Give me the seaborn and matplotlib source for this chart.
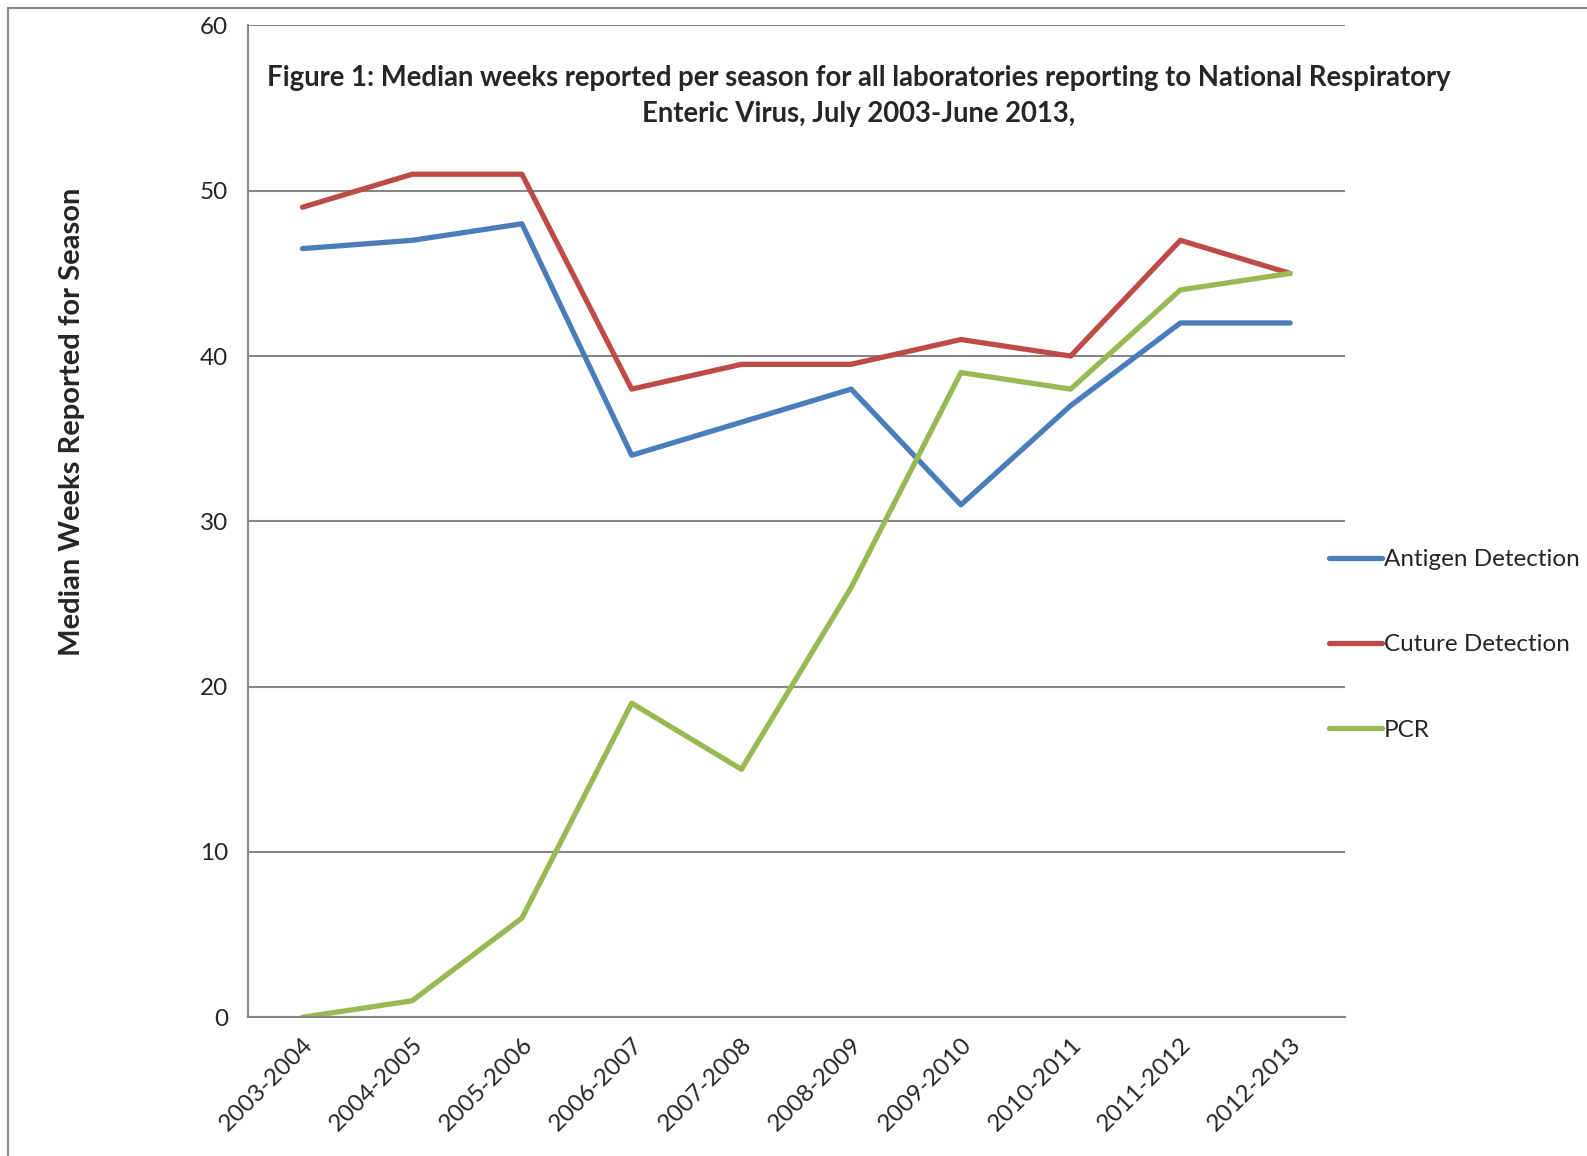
import pandas as pd
import seaborn as sns
import matplotlib.pyplot as plt
from matplotlib.patches import Rectangle

# data
seasons = ['2003-2004', '2004-2005', '2005-2006', '2006-2007', '2007-2008',
           '2008-2009', '2009-2010', '2010-2011', '2011-2012', '2012-2013']
antigen = [46.5, 47, 48, 34, 36, 38, 31, 37, 42, 42]
culture = [49, 51, 51, 38, 39.5, 39.5, 41, 40, 47, 45]
pcr = [0, 1, 6, 19, 15, 26, 39, 38, 44, 45]
series_names = ['Antigen Detection', 'Cuture Detection', 'PCR']
colors = ['#4A7EBB', '#BE4B48', '#98B954']

title = ('Figure 1: Median weeks reported per season for all laboratories reporting to National Respiratory\n'
         'Enteric Virus, July 2003-June 2013,')

sns.set_style('white')
plt.rcParams['font.family'] = ['Lato', 'DejaVu Sans']

# long format for seaborn
df = pd.DataFrame({
    'Season': seasons * 3,
    'Weeks': antigen + culture + pcr,
    'Series': [n for n in series_names for _ in seasons],
})

fig = plt.figure(figsize=(15.87, 11.56), dpi=100)
ax = fig.add_axes([0.156, 0.120, 0.6915, 0.858])

sns.lineplot(data=df, x='Season', y='Weeks', hue='Series', palette=colors,
             linewidth=3.8, sort=False, ax=ax, legend=False)

grid_c = '#878787'
ax.set_xlim(-0.5, len(seasons) - 0.5)
ax.set_ylim(0, 60)
ax.set_yticks(range(0, 61, 10))
ax.yaxis.grid(True, color=grid_c, linewidth=1.5)
ax.set_axisbelow(True)
for side in ['top', 'right']:
    ax.spines[side].set_visible(False)
for side in ['left', 'bottom']:
    ax.spines[side].set_color(grid_c)
    ax.spines[side].set_linewidth(1.5)

# category boundaries as ticks, labels at centres
ax.set_xticks([i - 0.5 for i in range(len(seasons) + 1)])
ax.set_xticklabels([])
ax.set_xticks(range(len(seasons)), minor=True)
ax.set_xticklabels(seasons, minor=True, rotation=45, ha='right',
                   rotation_mode='anchor', fontsize=17.5)
ax.tick_params(axis='x', which='major', direction='out', length=8, width=1.5, color=grid_c)
ax.tick_params(axis='x', which='minor', length=0, pad=12)
ax.tick_params(axis='y', direction='out', length=8, width=1.5, color=grid_c, labelsize=17.5, pad=6)

ax.set_xlabel('')
ax.set_ylabel('Median Weeks Reported for Season', fontsize=21, fontweight='bold', labelpad=0)
ax.yaxis.set_label_coords(-0.148, 0.6)

ax.text(0.557, 0.960, title, transform=ax.transAxes, ha='center', va='top',
        fontsize=19.8, fontweight='bold', linespacing=1.45)

# legend outside to the right
handles = [plt.Line2D([], [], color=c, linewidth=3.8, solid_capstyle='round') for c in colors]
fig.legend(handles, series_names, loc='upper left', bbox_to_anchor=(0.8235, 0.544),
           frameon=False, fontsize=17.5, handlelength=2.2, handletextpad=0.08,
           labelspacing=2.65)

# outer chart border (runs off the right and bottom of the image)
fig.patches.append(Rectangle((8 / 1587, -0.1), 1.2, 1.1 - 8 / 1156, transform=fig.transFigure,
                             fill=False, edgecolor='#8c8c8c', linewidth=1.6))

fig.savefig('out.png', dpi=100)
